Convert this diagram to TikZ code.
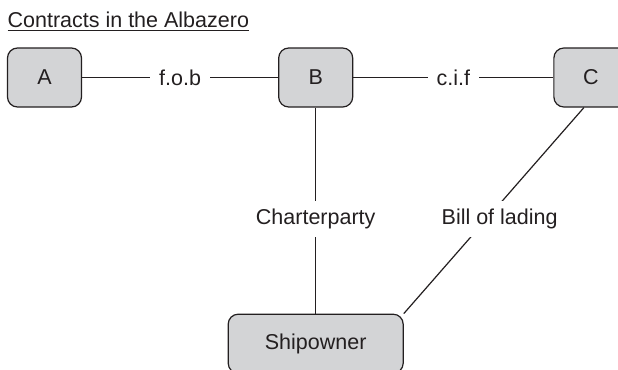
\documentclass[tikz,border=0pt]{standalone}
\usepackage{fontspec}
\setmainfont{Liberation Sans}
\usetikzlibrary{positioning}
\definecolor{ink}{RGB}{35,31,32}
\definecolor{boxgray}{RGB}{211,212,214}

\begin{document}
\begin{tikzpicture}[x=0.5pt,y=0.5pt,line width=0.6pt,color=ink,
  font=\fontsize{10.75}{13}\selectfont,
  party/.style={draw,fill=boxgray,rounded corners=5pt,minimum width=37pt,minimum height=29.5pt},
  lbl/.style={fill=white,inner xsep=4.5pt,inner ysep=4pt}]
  \path[use as bounding box,clip] (0,0) rectangle (618,-370);
  \node[anchor=base west,inner sep=0pt] (title) at (7,-27) {\underline{Contracts in the Albazero}};
  \node[party] (A) at (44.5,-77.5) {A};
  \node[party] (B) [right=98pt of A] {B};
  \node[party] (C) [right=100pt of B] {C};
  \node[party,minimum width=87.5pt] (Ship) [below=103pt of B] {Shipowner};
  \path
    (A) edge node[lbl]{f.o.b} (B)
    (B) edge node[lbl]{c.i.f} (C)
        edge node[lbl,pos=0.54]{Charterparty} (Ship)
    ([xshift=-3.5pt]C.south) edge node[lbl,pos=0.54,xshift=6.5pt]{Bill of lading} (Ship.north east);
\end{tikzpicture}
\end{document}
